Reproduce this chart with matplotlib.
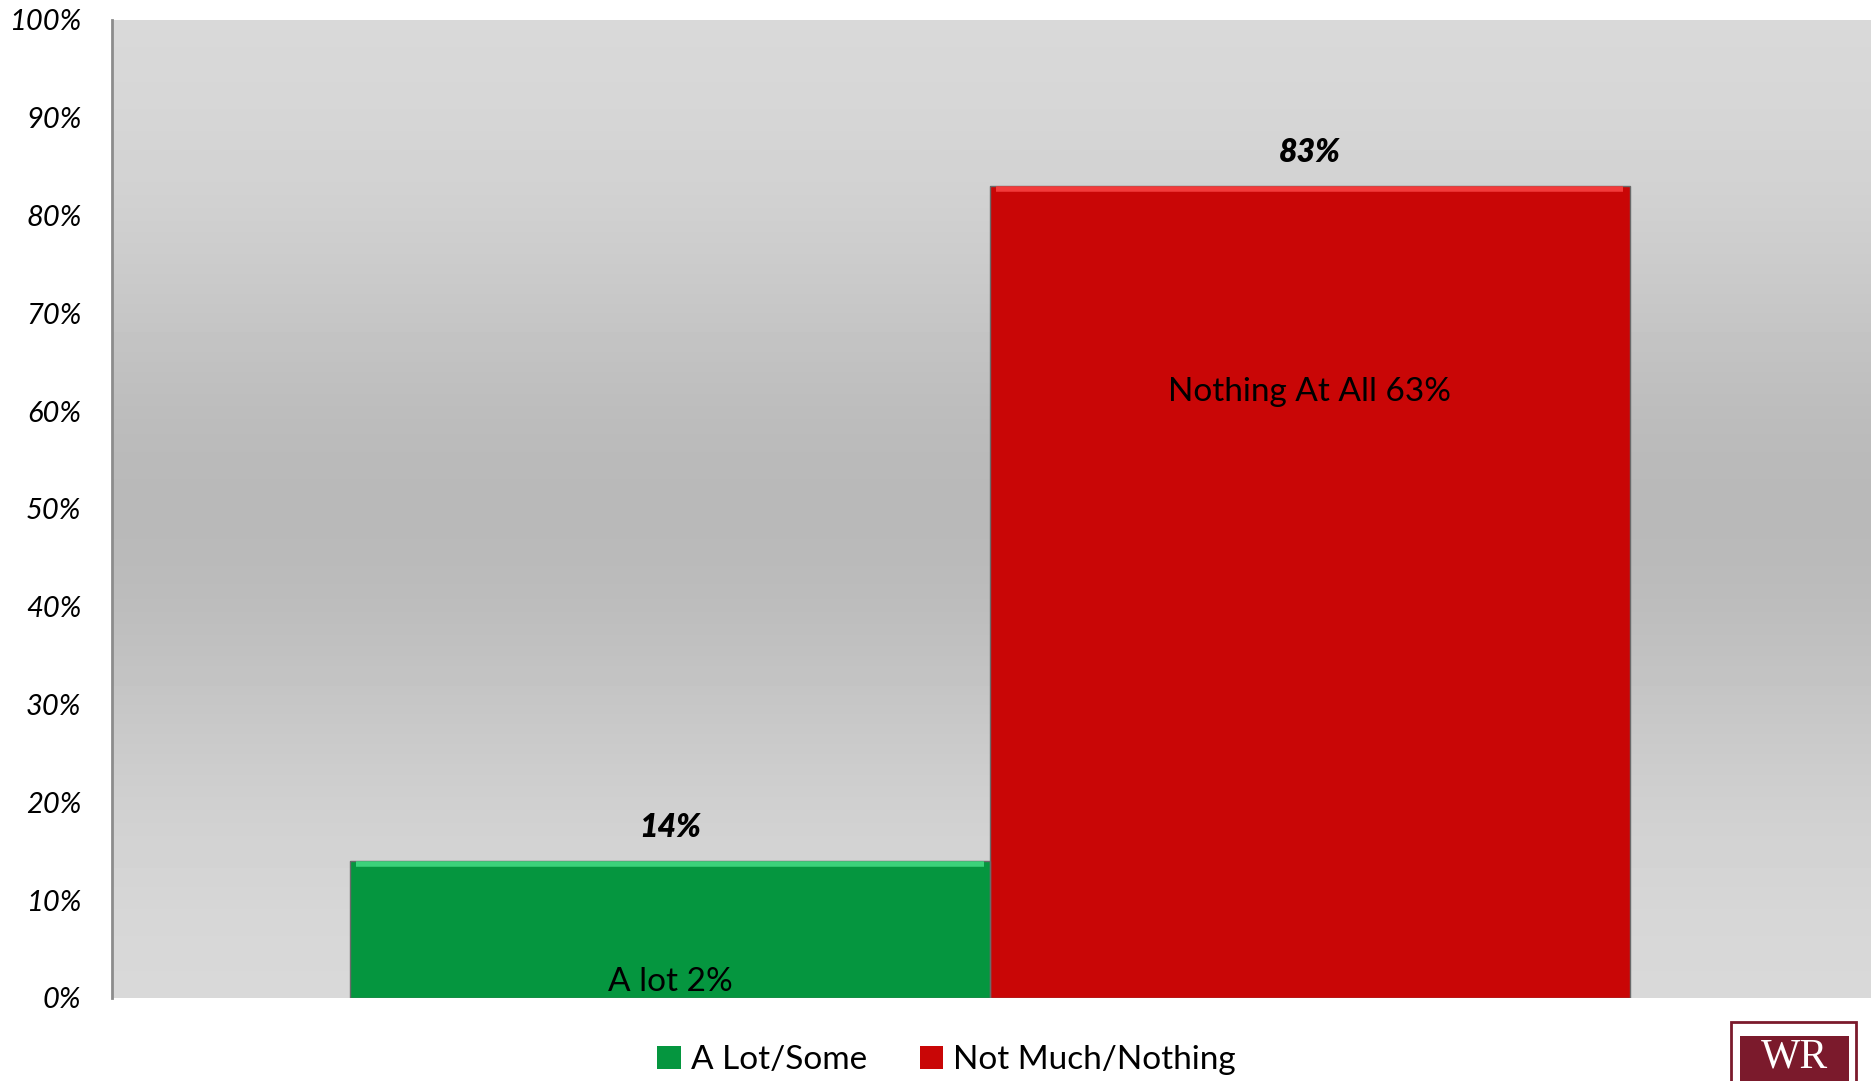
import matplotlib
matplotlib.use('Agg')
import matplotlib.pyplot as plt
import numpy as np
from matplotlib.patches import Rectangle

plt.rcParams['font.family'] = ['Lato', 'DejaVu Sans']

# data
categories = ['A Lot/Some', 'Not Much/Nothing']
totals = [14, 83]
inner_names = ['A lot', 'Nothing At All']
inner_values = [2, 63]
yticks = [0, 10, 20, 30, 40, 50, 60, 70, 80, 90, 100]

GREEN = '#05963F'
GREEN_HI = '#3CD27A'
RED = '#C90606'
RED_HI = '#F23A3A'
colors = [GREEN, RED]
highlights = [GREEN_HI, RED_HI]

fig = plt.figure(figsize=(18.71, 10.81), dpi=100)
fig.patch.set_facecolor('white')
ax = fig.add_axes([0.0599, 0.0768, 0.9401, 0.9047])

# grey gradient backdrop: light top, darker middle, light bottom
t = np.linspace(0, 1, 256)
shade = 0.855 - 0.13 * np.exp(-((t - 0.5) / 0.28) ** 2)
grad = np.repeat(shade[:, None], 2, axis=1)
ax.imshow(grad, cmap='gray', vmin=0, vmax=1, aspect='auto',
          extent=[0, 1, 0, 1], transform=ax.transAxes, zorder=0,
          interpolation='bilinear')

x = np.arange(len(categories))
rest = [tot - v for tot, v in zip(totals, inner_values)]
handles = []
for i in range(len(categories)):
    b = ax.bar(x[i], inner_values[i], width=1.0, color=colors[i],
               edgecolor='none', zorder=2, label=categories[i])
    ax.bar(x[i], rest[i], bottom=inner_values[i], width=1.0,
           color=colors[i], edgecolor='none', zorder=2)
    # bevel look: darker outline + light top strip
    ax.bar(x[i], totals[i], width=1.0, fill=False,
           edgecolor='#6a6a6a', linewidth=1.0, zorder=3)
    ax.hlines(totals[i] - 0.3, x[i] - 0.49, x[i] + 0.49,
              color=highlights[i], linewidth=4, zorder=3)
    handles.append(b)

    ax.text(x[i], totals[i] + 2.0, f'{totals[i]}%', ha='center',
            va='bottom', fontsize=23, fontweight='heavy', style='italic',
            color='black', zorder=4)
    ax.text(x[i], inner_values[i] - (1.0 if inner_values[i] > 5 else 0.4),
            f'{inner_names[i]} {inner_values[i]}%',
            ha='center', va='center', fontsize=24, color='black', zorder=4)

ax.set_xlim(-0.872, 1.877)
ax.set_ylim(0, 100)
ax.set_yticks(yticks)
ax.set_yticklabels([f'{v}%' for v in yticks], fontsize=21, style='italic')
ax.set_xticks([])
ax.tick_params(axis='y', length=0, pad=22)
for s in ['top', 'right', 'bottom']:
    ax.spines[s].set_visible(False)
ax.spines['left'].set_color('#8c8c8c')
ax.spines['left'].set_linewidth(2)
ax.spines['left'].set_zorder(5)

fig.legend(handles=handles, labels=categories, loc='center',
           bbox_to_anchor=(0.506, 0.019), ncol=2, frameon=False,
           fontsize=24, handlelength=0.7, handleheight=0.7,
           handletextpad=0.3, columnspacing=1.6)

# logo box, bottom right
fig.patches.append(Rectangle((0.9252, -0.02), 0.067, 0.075,
                             transform=fig.transFigure, facecolor='white',
                             edgecolor='#7B1A2C', linewidth=2))
fig.patches.append(Rectangle((0.930, -0.02), 0.058, 0.062,
                             transform=fig.transFigure, facecolor='#7B1A2C',
                             edgecolor='none'))
fig.text(0.959, 0.004, 'WR', ha='center', va='bottom', fontsize=30,
         family='Liberation Serif', color='white')

fig.savefig('out.png', dpi=100, facecolor='white')
